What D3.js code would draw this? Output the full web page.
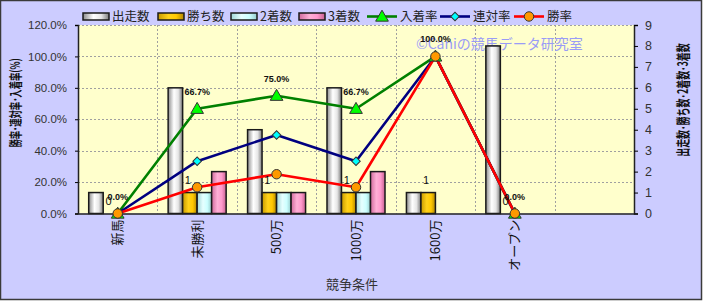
<!DOCTYPE html>
<html><head><meta charset="utf-8">
<script src="https://cdn.jsdelivr.net/npm/d3@7"></script>
<style>body{margin:0;background:#fff}svg{display:block}</style>
</head><body><svg id="c" width="703" height="301"></svg>
<script>
const categories = ['新馬','未勝利','500万','1000万','1600万','オープン',''];
const starts  = [1,6,4,6,1,8,null];
const wins    = [0,1,1,1,1,0,null];
const seconds = [0,1,1,1,0,0,null];
const thirds  = [0,2,1,2,0,0,null];
const placeRate  = [0,66.7,75.0,66.7,100.0,0,null];
const rentaiRate = [0,33.3,50.0,33.3,100.0,0,null];
const winRate    = [0,16.7,25.0,16.7,100.0,0,null];
const leftTicks  = [0,20,40,60,80,100,120];
const rightTicks = [0,1,2,3,4,5,6,7,8,9];
const barNames  = ['出走数','勝ち数','2着数','3着数'];
const lineNames = ['入着率','連対率','勝率'];
const leftTitle = '勝率･連対率･入着率(%)';
const rightTitle = '出走数･勝ち数･2着数･3着数';
const xTitle = '競争条件';
const watermark = '©Caniの競馬データ研究室';

const svg = d3.select('#c');
const W = 703, H = 301;
const L = 78, R = 634, T = 25, B = 213.5;
const JP = '"Noto Sans CJK JP","Noto Sans",sans-serif';
const NUM = '"Liberation Sans",Arial,sans-serif';

svg.append('rect').attr('x',0.5).attr('y',0.5).attr('width',W-2).attr('height',H-2)
  .attr('fill','#ccccff').attr('stroke','#3a3a3a').attr('stroke-width',1.5);

// gradients
const defs = svg.append('defs');
const barColors = [
  ['#8c8c8c','#ffffff','#e6e6e6','#7a7a7a'],
  ['#c89a00','#ffd21a','#ffc800','#b08600'],
  ['#9fd6d6','#e6ffff','#ccffff','#96cccc'],
  ['#d06a9c','#ffb0d6','#ff99cc','#c8608f']
];
barColors.forEach((c,i)=>{
  const g = defs.append('linearGradient').attr('id','g'+i).attr('x1','0').attr('x2','1').attr('y1','0').attr('y2','0');
  g.append('stop').attr('offset','0%').attr('stop-color',c[0]);
  g.append('stop').attr('offset','40%').attr('stop-color',c[1]);
  g.append('stop').attr('offset','70%').attr('stop-color',c[2]);
  g.append('stop').attr('offset','100%').attr('stop-color',c[3]);
});

const idx = categories.map((d,i)=>i);
const x = d3.scaleBand().domain(idx).range([L,R]).paddingInner(0).paddingOuter(0);
const bw = x.bandwidth();
const xs = d3.scaleBand().domain([0,1,2,3]).range([0,bw]).paddingInner(0).paddingOuter(0.738);
const yL = d3.scaleLinear().domain([0,120]).range([B,T]);
const yR = d3.scaleLinear().domain([0,9]).range([B,T]);
const cx = i => x(i)+bw/2;

// plot bg
svg.append('rect').attr('x',L).attr('y',T).attr('width',R-L).attr('height',B-T).attr('fill','#ffffcc');

// grid
svg.append('g').selectAll('line').data(leftTicks.filter(d=>d>0)).join('line')
  .attr('x1',L).attr('x2',R).attr('y1',d=>Math.round(yL(d))+0.5).attr('y2',d=>Math.round(yL(d))+0.5)
  .attr('stroke','#a0a0a0').attr('stroke-dasharray','2,2');
svg.append('g').selectAll('line').data(idx.slice(1)).join('line')
  .attr('x1',d=>Math.round(x(d))+0.5).attr('x2',d=>Math.round(x(d))+0.5).attr('y1',T).attr('y2',B)
  .attr('stroke','#a0a0a0').attr('stroke-dasharray','2,2');

// watermark
svg.append('text').attr('x',416).attr('y',48.5).text(watermark)
  .attr('font-family',JP).attr('font-size',14).attr('fill','#9a9cf6');

// bars
const barSeries = [starts,wins,seconds,thirds];
barSeries.forEach((s,si)=>{
  svg.append('g').selectAll('rect').data(s.map((v,i)=>({v,i})).filter(d=>d.v!=null && d.v>0)).join('rect')
    .attr('x',d=>x(d.i)+xs(si)).attr('width',xs.bandwidth())
    .attr('y',d=>yR(d.v)).attr('height',d=>B-yR(d.v))
    .attr('fill','url(#g'+si+')').attr('stroke','#1a1a1a').attr('stroke-width',1.5);
});

// axes
const ax = svg.append('g').attr('transform',`translate(${L},0)`)
  .call(d3.axisLeft(yL).tickValues(leftTicks).tickFormat(d=>d.toFixed(1)+'%').tickSize(3).tickPadding(8));
ax.select('.domain').attr('stroke','#222').attr('stroke-width',1.5);
ax.selectAll('text').attr('font-family',NUM).attr('font-size',11.5).attr('fill','#333');
const ar = svg.append('g').attr('transform',`translate(${R},0)`)
  .call(d3.axisRight(yR).tickValues(rightTicks).tickSize(4).tickPadding(7));
ar.select('.domain').attr('stroke','#222').attr('stroke-width',1.5);
ar.selectAll('text').attr('font-family',NUM).attr('font-size',12.5).attr('fill','#333');
const axb = svg.append('g').attr('transform',`translate(0,${B})`)
  .call(d3.axisBottom(x).tickFormat(i=>categories[i]).tickSize(0));
axb.select('.domain').attr('stroke','#222').attr('stroke-width',1.5);
axb.selectAll('text').attr('transform','rotate(-90)').attr('x',-6).attr('y',0).attr('dy','0.35em')
  .style('text-anchor','end').attr('font-family',JP).attr('font-size',13).attr('fill','#111');

// lines
const lineSeries = [placeRate,rentaiRate,winRate];
const lineColors = ['#008000','#000080','#ff0000'];
const markerFill = ['#00ff00','#00ffff','#ff9900'];
const lineGen = d3.line().defined(d=>d.v!=null).x(d=>cx(d.i)).y(d=>yL(d.v));
lineSeries.forEach((s,si)=>{
  svg.append('path').datum(s.map((v,i)=>({v,i}))).attr('d',lineGen)
    .attr('fill','none').attr('stroke',lineColors[si]).attr('stroke-width',2.6).attr('stroke-linejoin','round');
});
const sym = [d3.symbolTriangle,d3.symbolSquare,d3.symbolCircle];
const symSize = [70,36,70];
function marker(g,si,px,py){
  g.append('path').attr('d',d3.symbol().type(sym[si]).size(symSize[si])())
    .attr('transform',`translate(${px},${py+(si===0?1:0)})` + (si===1?' rotate(45)':''))
    .attr('fill',markerFill[si]).attr('stroke','#333').attr('stroke-width',1);
}
const mg = svg.append('g');
lineSeries.forEach((s,si)=>{
  s.forEach((v,i)=>{ if(v!=null) marker(mg,si,cx(i),yL(v)); });
});

// data labels: wins counts
svg.append('g').selectAll('text').data(wins.map((v,i)=>({v,i})).filter(d=>d.v!=null)).join('text')
  .attr('x',d=>x(d.i)+xs(1)+xs.bandwidth()/2-2).attr('y',d=>yR(d.v)-9)
  .attr('text-anchor','middle').attr('font-family',NUM).attr('font-size',11).attr('fill','#111')
  .text(d=>d.v);
// place rate labels
svg.append('g').selectAll('text').data(placeRate.map((v,i)=>({v,i})).filter(d=>d.v!=null)).join('text')
  .attr('x',d=>cx(d.i)).attr('y',d=>yL(d.v)-14)
  .attr('text-anchor','middle').attr('font-family',NUM).attr('font-size',9).attr('font-weight','bold').attr('fill','#111')
  .text(d=>d.v.toFixed(1)+'%');

// titles
svg.append('text').attr('transform','translate(20,103) rotate(-90) scale(0.64,1)').attr('text-anchor','middle')
  .attr('font-family',JP).attr('font-size',13).attr('font-weight','bold').attr('fill','#111')
  .text(leftTitle);
svg.append('text').attr('transform','translate(688,100) rotate(-90) scale(0.64,1)').attr('text-anchor','middle')
  .attr('font-family',JP).attr('font-size',14).attr('font-weight','bold').attr('fill','#111')
  .text(rightTitle);
svg.append('text').attr('x',352).attr('y',289).attr('text-anchor','middle')
  .attr('font-family',JP).attr('font-size',13).attr('fill','#333').text(xTitle);

// legend
const legX = [83,158,231,299,367,440,514];
const ly = 16.5;
const lg = svg.append('g');
barNames.forEach((n,i)=>{
  lg.append('rect').attr('x',legX[i]).attr('y',ly-3.5).attr('width',26).attr('height',7)
    .attr('fill','url(#g'+i+')').attr('stroke','#1a1a1a').attr('stroke-width',1.5);
  lg.append('text').attr('x',legX[i]+29).attr('y',ly+4.5).text(n)
    .attr('font-family',JP).attr('font-size',12.5).attr('fill','#222');
});
lineNames.forEach((n,j)=>{
  const lx = legX[4+j];
  lg.append('line').attr('x1',lx).attr('x2',lx+30).attr('y1',ly).attr('y2',ly)
    .attr('stroke',lineColors[j]).attr('stroke-width',2.6);
  marker(lg,j,lx+15,ly);
  lg.append('text').attr('x',lx+33).attr('y',ly+4.5).text(n)
    .attr('font-family',JP).attr('font-size',12.5).attr('fill','#222');
});
</script></body></html>
